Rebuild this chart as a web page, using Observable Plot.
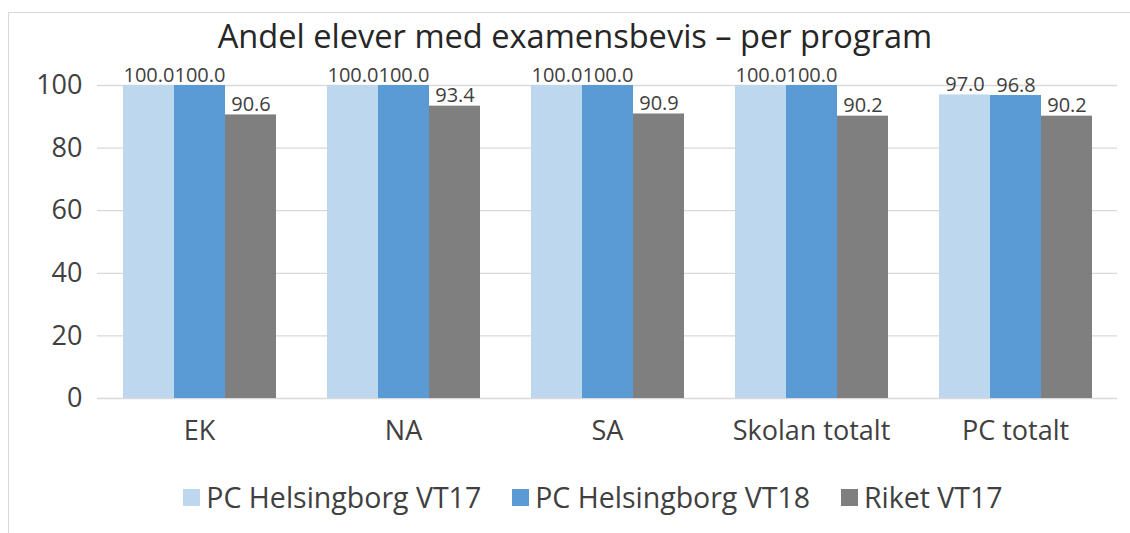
<!DOCTYPE html>
<html>
<head>
<meta charset="utf-8">
<script src="https://cdn.jsdelivr.net/npm/d3@7"></script>
<script src="https://cdn.jsdelivr.net/npm/@observablehq/plot@0.6"></script>
<style>
  body { margin: 0; background: #fff; font-family: "Open Sans", Lato, sans-serif; }
  #frame { position: absolute; left: 8px; top: 12px; width: 1140px; height: 540px; border: 1px solid #d9d9d9; box-sizing: border-box; }
  #title { position: absolute; left: 0; width: 1150px; top: 13px; text-align: center; font-size: 32.6px; color: #262626; white-space: nowrap; }
  #chart { position: absolute; left: 0; top: 60px; }
  #legend { position: absolute; left: 0; width: 1186px; top: 478px; display: flex; justify-content: center; gap: 31px; font-size: 28.5px; color: #404040; white-space: nowrap; }
  .item { display: flex; align-items: center; gap: 6px; }
  .sw { width: 17px; height: 17px; display: inline-block; }
</style>
</head>
<body>
<div id="frame"></div>
<div id="title"></div>
<div id="chart"></div>
<div id="legend"></div>
<script>
const title = "Andel elever med examensbevis – per program";
const categories = ["EK", "NA", "SA", "Skolan totalt", "PC totalt"];
const seriesNames = ["PC Helsingborg VT17", "PC Helsingborg VT18", "Riket VT17"];
const seriesColors = ["#BDD7EE", "#5B9BD5", "#7F7F7F"];
const vt17 = [100.0, 100.0, 100.0, 100.0, 97.0];
const vt18 = [100.0, 100.0, 100.0, 100.0, 96.8];
const riket = [90.6, 93.4, 90.9, 90.2, 90.2];
const yTicks = [0, 20, 40, 60, 80, 100];

const seriesValues = [vt17, vt18, riket];
const data = [];
categories.forEach((c, i) => {
  seriesNames.forEach((s, j) => data.push({category: c, series: s, value: seriesValues[j][i]}));
});

document.getElementById("title").textContent = title;

const chart = Plot.plot({
  width: 1130,
  height: 410,
  marginLeft: 97,
  marginRight: 13,
  marginTop: 25,
  marginBottom: 72,
  style: {fontFamily: "'Open Sans', Lato, sans-serif", fontSize: "27px", color: "#404040", background: "transparent", overflow: "visible"},
  fx: {domain: categories, paddingInner: 0, paddingOuter: 0, axis: "bottom", label: null, tickSize: 0, tickPadding: 22},
  x: {domain: seriesNames, paddingInner: 0, paddingOuter: 0.5, axis: null},
  y: {domain: [0, 100], ticks: yTicks, tickSize: 0, tickPadding: 15, label: null},
  color: {domain: seriesNames, range: seriesColors},
  marks: [
    Plot.ruleY(yTicks, {stroke: "#d9d9d9", strokeWidth: 1.3}),
    Plot.barY(data, {fx: "category", x: "series", y: "value", fill: "series", inset: 0}),
    Plot.text(data, {fx: "category", x: "series", y: "value", text: d => d.value.toFixed(1), lineAnchor: "bottom", dy: -4, fontSize: 20, fill: "#404040"})
  ]
});
document.getElementById("chart").appendChild(chart);

const legend = document.getElementById("legend");
seriesNames.forEach((s, j) => {
  const it = document.createElement("div");
  it.className = "item";
  const sw = document.createElement("span");
  sw.className = "sw";
  sw.style.background = seriesColors[j];
  const t = document.createElement("span");
  t.textContent = s;
  it.appendChild(sw); it.appendChild(t);
  legend.appendChild(it);
});
</script>
</body>
</html>
